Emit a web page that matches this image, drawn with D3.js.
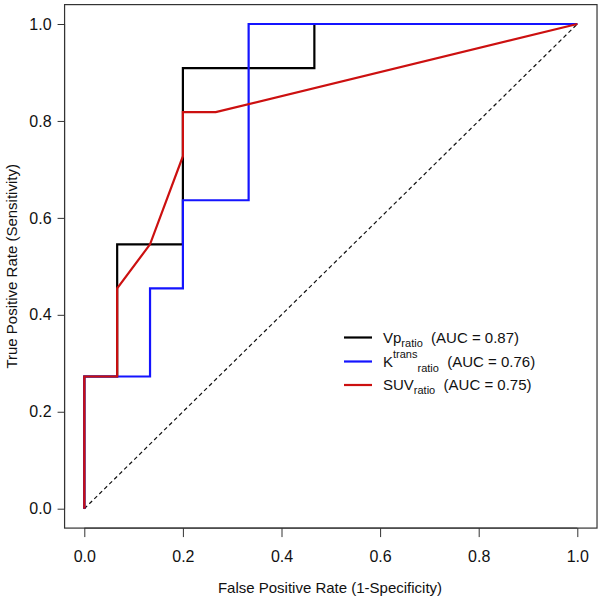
<!DOCTYPE html>
<html><head><meta charset="utf-8">
<script src="https://cdn.jsdelivr.net/npm/d3@7"></script>
<style>body{margin:0;background:#fff;} text{font-family:"Liberation Sans",Arial,sans-serif;}</style>
</head><body>
<svg id="c" width="600" height="604"></svg>
<script>
// ROC curves (FPR, TPR)
const vpFPR   = [0, 0, 1/15, 1/15, 3/15, 3/15, 7/15, 7/15, 1];
const vpTPR   = [0, 3/11, 3/11, 6/11, 6/11, 10/11, 10/11, 1, 1];
const ktFPR   = [0, 0, 2/15, 2/15, 3/15, 3/15, 5/15, 5/15, 1];
const ktTPR   = [0, 3/11, 3/11, 5/11, 5/11, 7/11, 7/11, 1, 1];
const suvFPR  = [0, 0, 1/15, 1/15, 2/15, 3/15, 3/15, 4/15, 1];
const suvTPR  = [0, 3/11, 3/11, 5/11, 6/11, 8/11, 9/11, 9/11, 1];
const ticks   = [0, 0.2, 0.4, 0.6, 0.8, 1.0];
const seriesNames = [["Vp", null, "ratio", "(AUC = 0.87)"], ["K", "trans", "ratio", "(AUC = 0.76)"], ["SUV", null, "ratio", "(AUC = 0.75)"]];
const colors = ["#000000", "#1414ff", "#cc1010"];

const svg = d3.select("#c");
const x = d3.scaleLinear().domain([0, 1]).range([84.3, 577.3]);
const y = d3.scaleLinear().domain([0, 1]).range([508.7, 24]);
const ext = 0.04;
const bx0 = x(-ext), bx1 = x(1 + ext), by0 = y(-ext), by1 = y(1 + ext);

// box
svg.append("rect").attr("x", bx0).attr("y", by1).attr("width", bx1 - bx0).attr("height", by0 - by1)
  .attr("fill", "none").attr("stroke", "#333").attr("stroke-width", 1.2);

// axes
const xAxis = d3.axisBottom(x).tickValues(ticks).tickFormat(d3.format(".1f")).tickSize(9).tickPadding(14);
const gx = svg.append("g").attr("transform", `translate(0,${by0})`).call(xAxis);
gx.select(".domain").attr("d", `M${x(0)},0H${x(1)}`).attr("stroke", "#333");
gx.selectAll(".tick line").attr("stroke", "#333");
gx.selectAll("text").attr("font-size", 16).attr("fill", "#111").style("font-family", "Liberation Sans, Arial, sans-serif");

const yAxis = d3.axisLeft(y).tickValues(ticks).tickFormat(d3.format(".1f")).tickSize(7).tickPadding(6);
const gy = svg.append("g").attr("transform", `translate(${bx0},0)`).call(yAxis);
gy.select(".domain").attr("d", `M0,${y(0)}V${y(1)}`).attr("stroke", "#333");
gy.selectAll(".tick line").attr("stroke", "#333");
gy.selectAll("text").attr("font-size", 16).attr("fill", "#111").style("font-family", "Liberation Sans, Arial, sans-serif");

svg.append("text").attr("x", 330).attr("y", 593).attr("text-anchor", "middle")
  .attr("font-size", 15).attr("fill", "#111").text("False Positive Rate (1-Specificity)");
svg.append("text").attr("transform", `translate(17,${(by0 + by1) / 2}) rotate(-90)`).attr("text-anchor", "middle")
  .attr("font-size", 15).attr("fill", "#111").text("True Positive Rate (Sensitivity)");

// diagonal
svg.append("line").attr("x1", x(0)).attr("y1", y(0)).attr("x2", x(1)).attr("y2", y(1))
  .attr("stroke", "#111").attr("stroke-width", 1.2).attr("stroke-dasharray", "4,3");

const line = d3.line().x(d => x(d[0])).y(d => y(d[1]));
const series = [[vpFPR, vpTPR], [ktFPR, ktTPR], [suvFPR, suvTPR]];
series.forEach((s, i) => {
  const pts = s[0].map((v, j) => [v, s[1][j]]);
  svg.append("path").datum(pts).attr("d", line).attr("fill", "none")
    .attr("stroke", colors[i]).attr("stroke-width", 2.2).attr("stroke-linejoin", "miter");
});

// legend
const lg = svg.append("g");
const rowY = [337.5, 361.5, 385];
seriesNames.forEach((n, i) => {
  lg.append("line").attr("x1", 344).attr("x2", 372).attr("y1", rowY[i]).attr("y2", rowY[i])
    .attr("stroke", colors[i]).attr("stroke-width", 2.2);
  const t = lg.append("text").attr("x", 383).attr("y", rowY[i] + 5).attr("font-size", 15).attr("fill", "#111");
  t.append("tspan").text(n[0]);
  if (n[1]) {
    t.append("tspan").attr("font-size", 11).attr("dy", -9).text(n[1]);
    t.append("tspan").attr("font-size", 11).attr("dy", 14).text(n[2]);
    t.append("tspan").attr("font-size", 15).attr("dy", -5).text("\u00a0\u00a0" + n[3]);
  } else {
    t.append("tspan").attr("font-size", 11).attr("dy", 4).text(n[2]);
    t.append("tspan").attr("font-size", 15).attr("dy", -4).text("\u00a0\u00a0" + n[3]);
  }
});
</script>
</body></html>
